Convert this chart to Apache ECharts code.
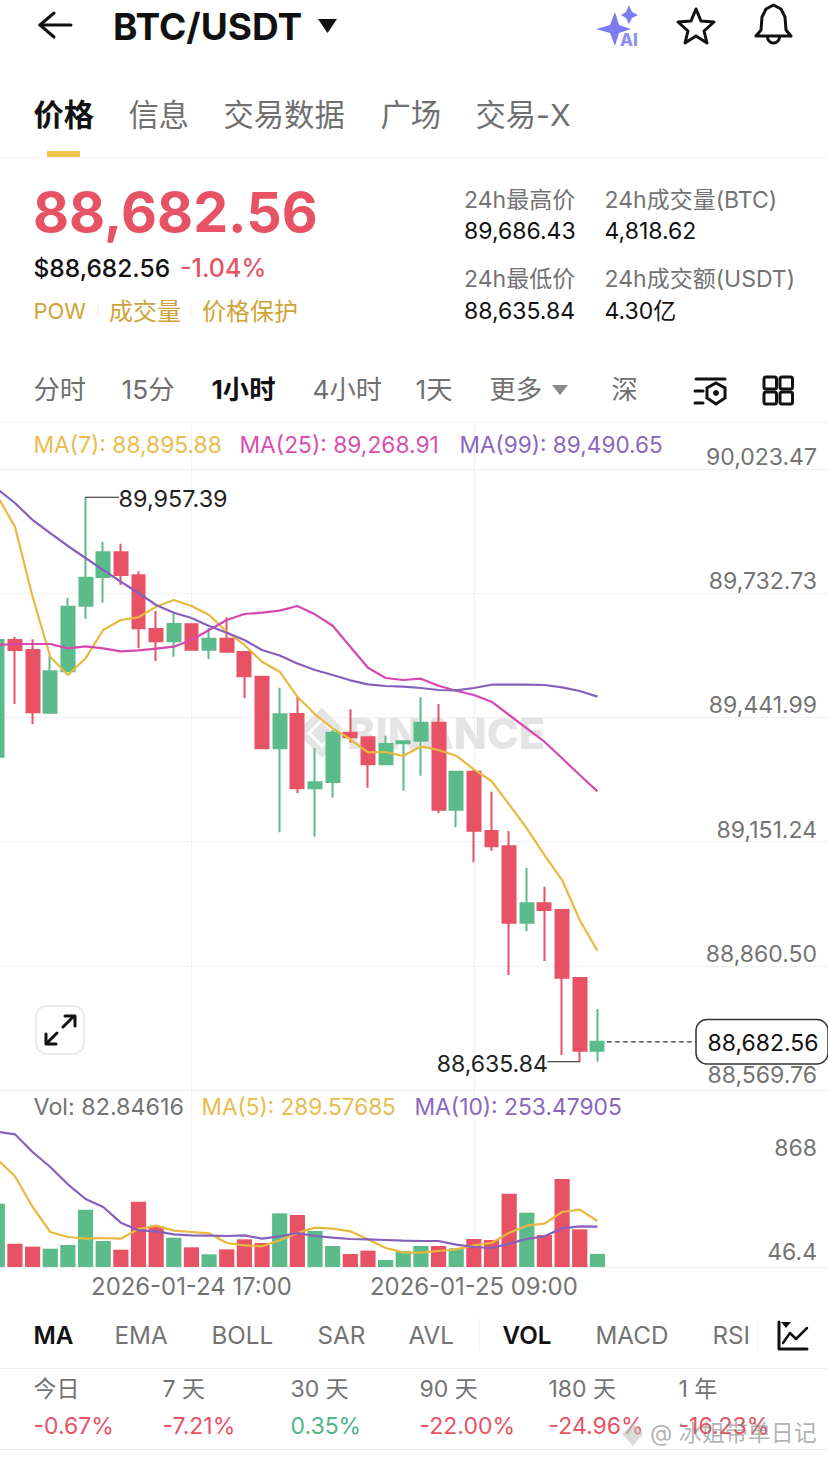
<!DOCTYPE html>
<html><head><meta charset="utf-8">
<style>html,body{margin:0;padding:0;background:#fff;overflow:hidden}#c{width:828px;height:1458px}</style>
<script src="https://cdn.jsdelivr.net/npm/echarts@6/dist/echarts.min.js"></script>
</head><body><div id="c"></div>
<script>
// ---------- data ----------
const times = ['2026-01-24 06:00','2026-01-24 07:00','2026-01-24 08:00','2026-01-24 09:00','2026-01-24 10:00','2026-01-24 11:00','2026-01-24 12:00','2026-01-24 13:00','2026-01-24 14:00','2026-01-24 15:00','2026-01-24 16:00','2026-01-24 17:00','2026-01-24 18:00','2026-01-24 19:00','2026-01-24 20:00','2026-01-24 21:00','2026-01-24 22:00','2026-01-24 23:00','2026-01-25 00:00','2026-01-25 01:00','2026-01-25 02:00','2026-01-25 03:00','2026-01-25 04:00','2026-01-25 05:00','2026-01-25 06:00','2026-01-25 07:00','2026-01-25 08:00','2026-01-25 09:00','2026-01-25 10:00','2026-01-25 11:00','2026-01-25 12:00','2026-01-25 13:00','2026-01-25 14:00','2026-01-25 15:00','2026-01-25 16:00'];
const opens  = [89350,89623.2,89599.8,89453,89549.9,89703.5,89770.6,89828.5,89774.6,89648.9,89620.1,89659.9,89600.5,89626.2,89595,89537.3,89369.6,89449.9,89276,89290.7,89406.2,89395.4,89332.2,89381.3,89387.4,89429.6,89225.9,89314.9,89176,89140.2,88961.4,89006.8,88991.1,88832,88661.7];
const closes = [89623,89599.8,89453.9,89549.9,89701.1,89769,89828.5,89775.3,89650.6,89620.1,89660.6,89600.5,89626.2,89595.8,89538.2,89369.6,89449.2,89276,89290,89406.2,89395.4,89332.2,89379.7,89386,89429.6,89225.9,89314.9,89176.7,89140.2,88961.4,89006.8,88991.1,88832.6,88661.7,88682.56];
const lows   = [89342,89473.3,89425.8,89451.6,89549.9,89672.3,89710.5,89751.9,89603.7,89574,89584.1,89600.5,89578.7,89595.8,89487.4,89369.6,89173,89264.3,89162.7,89254,89382.7,89277.4,89332.2,89270.4,89305.5,89217.5,89184.7,89102.8,89129.9,88838.9,88941.9,88871.7,88651.6,88635.84,88635.84];
const highs  = [89632,89630.9,89624.8,89585.7,89722.2,89957.39,89852.6,89848.6,89784,89691,89685.7,89659.9,89651.3,89676.3,89595,89539.6,89511.5,89490.9,89369.6,89412.5,89460.9,89395.4,89399.1,89386,89489,89473.3,89314.9,89318.8,89268,89176,89090.1,89045.6,88991.1,88832,88759.3];
const ma7    = [89960.3,89888.4,89724.5,89584.1,89541.2,89580.3,89646.6,89670,89676.3,89701.1,89716.8,89702.8,89681.7,89642.6,89611.5,89572.4,89549,89490.4,89449.2,89416.4,89390.7,89360.3,89361,89351.6,89374.3,89365.7,89352.3,89320.5,89293.1,89238.5,89182.4,89119.8,89061.3,88967.7,88895.88];
const ma25   = [89611.5,89613.8,89613.8,89613.8,89603.7,89608.4,89603.7,89596.7,89599,89602.8,89607.5,89623.2,89646.6,89670,89684,89687.1,89691.8,89702.8,89683.3,89656.6,89607.5,89558.3,89534.2,89529.5,89532.6,89516.2,89504.5,89494.4,89478.7,89447.6,89416.4,89385.1,89346.2,89307.1,89268.91];
const ma99   = [89976.7,89943.9,89904.1,89873.6,89843.2,89815.1,89787,89759.6,89733.2,89705.1,89687.1,89674.7,89655.9,89640.2,89623.2,89599.8,89586.9,89568.1,89552.9,89541.2,89528.8,89519.4,89515.5,89513.8,89510.8,89506.1,89505.4,89510.8,89518.5,89518.5,89518.5,89517.8,89512.4,89503.8,89490.65];
const vols   = [398.4,146.8,127.9,115.3,138.4,360.7,163.6,109,411,255.8,184.5,123.7,79.7,111.1,174,151,337.6,327.1,226.5,132.1,81.8,102.8,44,100.7,132.1,132.1,117.4,176.1,169.9,461.3,341.8,201.3,553.6,237,82.846];
const volMa5 = [677,570.4,377.5,220.2,188.7,178.2,182.4,178.2,239,260,228.6,220.2,211.8,151,136.3,130,167.8,213.9,247.4,241.2,224.4,174,119.5,92.3,90.2,100.7,111.1,136.3,151,216,260,272.6,346,360.7,289.58];
const volMa10= [851.4,834.6,723.5,629.1,520,427.8,377.5,278.9,230.7,224.4,205.5,199.2,197.1,195,199.2,178.2,192.9,213.9,195,184.5,176.1,174,169.9,165.7,163.6,163.6,140.5,125.8,119.5,146.8,176.1,192.9,243.3,255.8,253.48];
const priceTicks = [88569.76,88860.50,89151.24,89441.99,89732.73,90023.47];
const volTicks = [46.4,868];
const labelledTimes = ['2026-01-24 17:00','2026-01-25 09:00'];
const highLabel = '89,957.39', lowLabel = '88,635.84', lastLabel = '88,682.56';
const lastPrice = 88682.56, highPrice = 89957.39, lowPrice = 88635.84;
const tabs = ['价格','信息','交易数据','广场','交易-X'];
const periods = ['分时','15分','1小时','4小时','1天','更多','深'];
const indicators = ['MA','EMA','BOLL','SAR','AVL','VOL','MACD','RSI'];
const spans = ['今日','7 天','30 天','90 天','180 天','1 年'];
const spanChanges = ['-0.67%','-7.21%','0.35%','-22.00%','-24.96%','-16.23%'];

// ---------- style ----------
const FF = "Inter,'Noto Sans CJK SC',sans-serif";
const RED='#E75365', GREEN='#5CBB8B', YEL='#E8B93F', PINK='#D548AE', PUR='#8560BC', GRAY='#737373', LINE='#F1F1F1';
const step = 17.65, left0 = -2.7, slots = 49, NUM = 23;
const cats = times.concat(Array(slots - times.length).fill(''));
const isLabelled = (i) => labelledTimes.indexOf(cats[i]) >= 0;
const candles = opens.map((o,i)=>[o,closes[i],lows[i],highs[i]]);
const volBars = vols.map((v,i)=>({value:v,itemStyle:{color:closes[i]>=opens[i]?GREEN:RED}}));
const fmt = v => v.toLocaleString('en-US',{minimumFractionDigits:2,maximumFractionDigits:2});
const lineS = (name,data,color,x) => ({name,type:'line',data,xAxisIndex:x,yAxisIndex:x,showSymbol:false,symbol:'none',clip:false,silent:true,lineStyle:{color,width:2.2},z:5});

const chart = echarts.init(document.getElementById('c'),null,{renderer:'svg',width:828,height:1458});
const axisLab = {inside:true,margin:27.5,fontFamily:FF,fontSize:NUM,color:GRAY};
chart.setOption({
  animation:false,
  backgroundColor:'#fff',
  grid:[
    {left:left0,top:422,width:step*(slots-1),height:668,outerBoundsMode:'none'},
    {left:left0,top:1090,width:step*(slots-1),height:177,outerBoundsMode:'none'}
  ],
  xAxis:[
    {type:'category',gridIndex:0,data:cats,boundaryGap:false,axisLine:{show:true,lineStyle:{color:LINE}},axisTick:{show:false},axisLabel:{show:false},
     splitLine:{show:true,interval:(i)=>isLabelled(i),lineStyle:{color:LINE,width:1}}},
    {type:'category',gridIndex:1,data:cats,boundaryGap:false,axisLine:{show:true,lineStyle:{color:LINE}},axisTick:{show:false},
     axisLabel:{show:true,interval:(i)=>isLabelled(i),fontFamily:FF,fontSize:23.9,color:GRAY,margin:8,hideOverlap:false},
     splitLine:{show:true,interval:(i)=>isLabelled(i),lineStyle:{color:LINE,width:1}}}
  ],
  yAxis:[
    {type:'value',gridIndex:0,position:'right',min:88569.76,max:90133.49,axisLine:{show:false},axisTick:{show:false,customValues:priceTicks},
     splitLine:{show:true,lineStyle:{color:LINE,width:1}},
     axisLabel:Object.assign({},axisLab,{customValues:priceTicks,formatter:(v)=>v<88570?`{low|${fmt(v)}}`:`{up|${fmt(v)}}`,
       rich:{up:{fontFamily:FF,fontSize:NUM,color:GRAY,padding:[0,0,24,0]},low:{fontFamily:FF,fontSize:NUM,color:GRAY,padding:[0,0,30,0]}}})},
    {type:'value',gridIndex:1,position:'right',min:0,max:1113.3,axisLine:{show:false},axisTick:{show:false,customValues:volTicks},splitLine:{show:false},
     axisLabel:Object.assign({},axisLab,{customValues:volTicks,formatter:(v)=>v>100?`{a|${v}}`:`{b|${v}}`,
       rich:{a:{fontFamily:FF,fontSize:NUM,color:GRAY,padding:[38,0,0,0]},b:{fontFamily:FF,fontSize:NUM,color:GRAY,padding:[0,0,16,0]}}})}
  ],
  series:[
    {name:'K',type:'candlestick',xAxisIndex:0,yAxisIndex:0,data:candles,barWidth:13.4,clip:false,silent:true,z:3,
     itemStyle:{color:GREEN,color0:RED,borderColor:GREEN,borderColor0:RED,borderWidth:2}},
    lineS('MA7',ma7,YEL,0),lineS('MA25',ma25,PINK,0),lineS('MA99',ma99,PUR,0),
    {name:'Vol',type:'bar',xAxisIndex:1,yAxisIndex:1,data:volBars,barWidth:15.2,clip:false,silent:true,z:3},
    lineS('VolMA5',volMa5,YEL,1),lineS('VolMA10',volMa10,PUR,1)
  ]
});

// ---------- overlay ----------
const T=(text,x,y,size,fill,opt={})=>({type:'text',z:opt.z||50,silent:true,style:{text,x,y,fill,font:`${opt.w||400} ${size}px ${FF}`,align:opt.a||'left',verticalAlign:'middle',opacity:opt.o==null?1:opt.o}});
const L=(x1,y1,x2,y2,stroke,lineWidth=1,dash,z=40)=>({type:'line',z,silent:true,shape:{x1,y1,x2,y2},style:{stroke,lineWidth,lineDash:dash||null,lineCap:'round'}});
const PL=(pts,stroke,lineWidth=3,smooth=0)=>({type:'polyline',z:50,silent:true,shape:{points:pts,smooth},style:{stroke,lineWidth,fill:null,lineJoin:'round',lineCap:'round'}});
const PG=(pts,fill,z=50)=>({type:'polygon',z,silent:true,shape:{points:pts},style:{fill}});
const RR=(x,y,width,height,r,stroke,fill,lineWidth=1.5,z=45)=>({type:'rect',z,silent:true,shape:{x,y,width,height,r},style:{stroke,fill,lineWidth}});
const px=(i,v)=>chart.convertToPixel({xAxisIndex:0,yAxisIndex:0},[i,v]);
const G=[];
// top bar
G.push(PL([[54,13],[40,25],[54,37]],'#111',3),L(40,25,71,25,'#111',3,null,50));
G.push(T('BTC/USDT',113,26,37,'#111',{w:700}));
G.push(PG([[318,19],[337,19],[327.5,33]],'#111'));
// AI sparkle
G.push(PG([[618,18],[622,31],[634,35],[622,39],[618,52],[613,39],[599,35],[613,31]].map(p=>[p[0]-3,p[1]-6]),'#7C7CF2'));
G.push(PG([[629,5],[632,12],[638,15],[632,18],[629,24],[626,18],[621,15],[626,12]],'#7C7CF2'));
G.push(T('AI',620,40,17,'#8F8FF5',{w:800}));
// star
G.push({type:'polygon',z:50,silent:true,shape:{points:[[696,9],[701,21],[714,22],[704,31],[707,43],[696,36],[685,43],[688,31],[678,22],[691,21]]},style:{stroke:'#111',lineWidth:3,fill:null,lineJoin:'round'}});
// bell
G.push(PL([[756,36],[761,30],[762,17],[766,9],[773.5,5],[781,9],[785,17],[786,30],[791,36],[756,36]],'#111',3));
G.push({type:'arc',z:50,silent:true,shape:{cx:773.5,cy:37,r:6,startAngle:0,endAngle:Math.PI,clockwise:true},style:{stroke:'#111',lineWidth:3,fill:null}});
// tabs
[33.5,128.5,223.5,380.5,475.5].forEach((x,i)=>G.push(T(tabs[i],x,115,30.3,i?'#707070':'#111',{w:i?400:700})));
G.push({type:'rect',z:50,silent:true,shape:{x:47,y:151,width:33,height:6},style:{fill:'#EFC44F'}});
G.push(L(0,157.5,828,157.5,'#F3F3F3'));
// price block
G.push(T('88,682.56',33,211,55.5,RED,{w:700}));
G.push(T('$88,682.56',33.5,268,24.5,'#111',{w:500}));
G.push(T('-1.04%',180,268,25,RED,{w:500}));
G.push(T('POW',33.5,311,22,'#CFA437'),T('成交量',109,311,24,'#CFA437'),T('价格保护',202,311,24,'#CFA437'));
G.push(L(98,306,98,316,'#EEE'),L(191,306,191,316,'#EEE'));
G.push(T('24h最高价',464,200,23,GRAY),T('89,686.43',464,231,NUM,'#111'),T('24h成交量(BTC)',604.5,200,23,GRAY),T('4,818.62',604.5,231,NUM,'#111'));
G.push(T('24h最低价',464,279,23,GRAY),T('88,635.84',464,311,NUM,'#111'),T('24h成交额(USDT)',604.5,279,23,GRAY),T('4.30亿',604.5,311,NUM,'#111'));
// period row
[33.5,121.5,211.5,312.5,415.5,489.5,611.5].forEach((x,i)=>G.push(T(periods[i],x,389,26.3,i==2?'#111':'#707070',{w:i==2?700:400})));
G.push(PG([[552,385],[568,385],[560,395]],'#8A8A8A'));
G.push(L(696,379,725,379,'#111',3,null,50),L(695,391,703,391,'#111',3,null,50),L(695,403,703,403,'#111',3,null,50));
G.push({type:'polygon',z:50,silent:true,shape:{points:[[716,383],[725,388],[725,398],[716,404],[707,398],[707,388]]},style:{stroke:'#111',lineWidth:3,fill:'#fff'}});
G.push({type:'circle',z:51,silent:true,shape:{cx:716,cy:393,r:3},style:{fill:'#111'}});
[[764,377],[780,377],[764,392],[780,392]].forEach(p=>G.push(RR(p[0],p[1],12.5,12,2,'#111',null,3,50)));
// chart dividers & headers
G.push(L(0,422.5,828,422.5,LINE));
G.push(T('MA(7): 88,895.88',33.5,444,22.8,'#E8BC4D'),T('MA(25): 89,268.91',239.5,444,22.8,'#D84FB0'),T('MA(99): 89,490.65',459.5,444,22.6,'#8A66C0'));
G.push(T('Vol: 82.84616',33.5,1106,23.3,GRAY),T('MA(5): 289.57685',201.5,1106,22.6,'#E8BC4D'),T('MA(10): 253.47905',414.5,1106,22.8,'#8A66C0'));
// watermark
const WM='#E4E4E4';
G.push(T('BINANCE',347,733,43,WM,{w:800,z:1}));
G.push(PG([[322,722],[333,733],[322,744],[311,733]],WM,1),PG([[305,733],[311,727],[300,733],[311,739]],WM,1));
G.push(PG([[322,708],[343,729],[337,733],[322,718],[307,733],[301,727]],WM,1),PG([[322,758],[301,737],[307,733],[322,748],[337,733],[343,737]],WM,1));
// expand button
G.push(RR(36,1006,48,48,11,'#ECECEC','#fff',2));
G.push(L(63,1027,73,1017,'#111',3,null,50),PL([[65,1016],[75,1016],[75,1026]],'#111',3));
G.push(L(57,1033,47,1043,'#111',3,null,50),PL([[46,1034],[46,1044],[56,1044]],'#111',3));
// high/low/last annotations — anchored through the chart's scales
const pHi=px(5,highPrice), pLo=px(33,lowPrice), pLast=px(34,lastPrice);
G.push(L(pHi[0],pHi[1],pHi[0]+33,pHi[1],'#222',1.2));
G.push(T(highLabel,pHi[0]+33,pHi[1]+1,23.4,'#222'));
G.push(L(pLo[0],pLo[1],pLo[0]-32,pLo[1],'#222',1.2));
G.push(T(lowLabel,pLo[0]-32,pLo[1]+2,NUM,'#222',{a:'right'}));
G.push(L(pLast[0]+10,pLast[1],696,pLast[1],'#333',1.2,[4,4]));
G.push(RR(696,1019.5,132,44.5,11,'#333','#fff',1.5,45));
G.push(T(lastLabel,707.5,pLast[1]+1,NUM,'#111'));
// indicators row
[33.5,114.5,211.5,317.5,408.5,502.5,595.5,712.5].forEach((x,i)=>G.push(T(indicators[i],x,1335,24.2,(i==0||i==5)?'#111':'#737373',{w:(i==0||i==5)?600:400})));
G.push(L(479,1319,479,1351,'#EDEDED'),L(758,1319,758,1351,'#EDEDED'));
G.push(PL([[779,1322],[779,1349],[807,1349]],'#111',3),PL([[783,1343],[790,1333],[796,1339],[807,1328]],'#111',2.5));
G.push(PG([[781,1322],[791,1322],[786,1328]],'#111'));
G.push(L(0,1368.5,828,1368.5,LINE));
// period performance
[33.5,162.5,290.5,419.5,548.5,678.5].forEach((x,i)=>{
  G.push(T(spans[i],x,1389,23,GRAY));
  G.push(T(spanChanges[i],x,1426,NUM,spanChanges[i][0]=='-'?RED:'#4FB583'));
});
G.push(L(0,1449.5,828,1449.5,'#EDEDED'));
// image-host watermark
G.push(PG([[633,1423],[643,1434],[633,1446],[622,1434]],'rgba(190,190,190,0.55)',60));
G.push(T('@ 冰姐带单日记',650,1433,23,'rgba(130,130,130,0.62)',{z:60}));
chart.setOption({graphic:{elements:G}});
</script></body></html>
